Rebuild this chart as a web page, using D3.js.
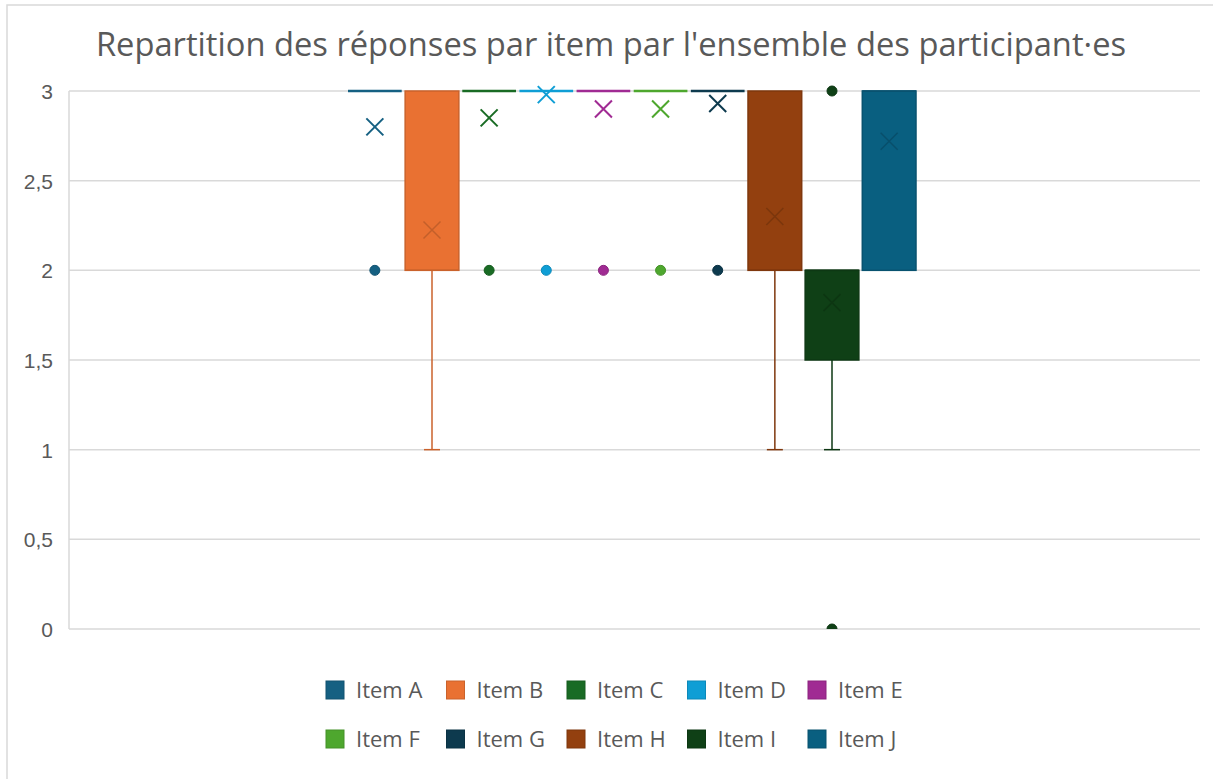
<!DOCTYPE html>
<html lang="fr">
<head>
<meta charset="utf-8">
<title>Repartition des réponses</title>
<style>
  body { margin: 0; background: #fff; }
  svg { display: block; font-family: "Open Sans", "Noto Sans", sans-serif; }
  .grid line { stroke: #d9d9d9; stroke-width: 1.5; }
  .axis text { fill: #595959; font-size: 21px; }
  .legend text { fill: #595959; font-size: 22px; }
  .title { fill: #595959; font-size: 32.7px; }
</style>
</head>
<body>
<div id="chart"></div>
<script src="https://cdn.jsdelivr.net/npm/d3@7"></script>
<script>
// values
var items = ["Item A", "Item B", "Item C", "Item D", "Item E", "Item F", "Item G", "Item H", "Item I", "Item J"];
var colors = ["#156082", "#e97132", "#196b24", "#0f9ed5", "#a02b93", "#4ea72e", "#0d3a4e", "#93400f", "#0f4016", "#095f80"];
var q1 =        [3, 2, 3, 3, 3, 3, 3, 2, 1.5, 2];
var median =    [3, 2, 3, 3, 3, 3, 3, 2, 2, 3];
var q3 =        [3, 3, 3, 3, 3, 3, 3, 3, 2, 3];
var whiskLow =  [3, 1, 3, 3, 3, 3, 3, 1, 1, 2];
var whiskHigh = [3, 3, 3, 3, 3, 3, 3, 3, 2, 3];
var means =     [2.80, 2.225, 2.85, 2.98, 2.90, 2.90, 2.93, 2.30, 1.82, 2.72];
var outliers =  [[2], [], [2], [2], [2], [2], [2], [], [3, 0], []];
var yTicks = [0, 0.5, 1, 1.5, 2, 2.5, 3];
var title = "Repartition des réponses par item par l'ensemble des participant·es";

var W = 1213, H = 779;
var plot = {left: 69, right: 1200, top: 91, bottom: 629};

var svg = d3.select("#chart").append("svg").attr("width", W).attr("height", H);

// chart border
svg.append("rect").attr("x", 7).attr("y", 5).attr("width", W).attr("height", H)
  .attr("fill", "none").attr("stroke", "#d9d9d9").attr("stroke-width", 1.5);

svg.append("text").attr("class", "title")
  .attr("x", 611).attr("y", 56).attr("text-anchor", "middle").text(title);

var y = d3.scaleLinear().domain([0, 3]).range([plot.bottom, plot.top]);

// the series sit in the middle half of the single category
var x = d3.scaleBand().domain(items).range([348, 916]).paddingInner(0.06);

var grid = svg.append("g").attr("class", "grid");
grid.selectAll("line").data(yTicks).enter().append("line")
  .attr("x1", plot.left).attr("x2", plot.right)
  .attr("y1", function(d){ return y(d); }).attr("y2", function(d){ return y(d); });

svg.append("line").attr("x1", plot.left).attr("x2", plot.left)
  .attr("y1", plot.top).attr("y2", plot.bottom)
  .attr("stroke", "#d9d9d9").attr("stroke-width", 1.5);

var yAxis = svg.append("g").attr("class", "axis")
  .attr("transform", "translate(" + (plot.left - 16) + ",0)")
  .call(d3.axisLeft(y).tickValues(yTicks).tickSize(0)
    .tickFormat(function(d){ return String(d).replace(".", ","); }));
yAxis.select(".domain").remove();
yAxis.selectAll("text").attr("dy", "0.35em").attr("x", 0);

svg.append("clipPath").attr("id", "clip").append("rect")
  .attr("x", plot.left).attr("y", plot.top - 6)
  .attr("width", plot.right - plot.left).attr("height", plot.bottom - plot.top + 6);

var boxes = svg.append("g").attr("clip-path", "url(#clip)");
var bw = x.bandwidth();

items.forEach(function(name, i){
  var c = colors[i];
  var dark = d3.color(c).darker(0.4).formatHex();
  var g = boxes.append("g");
  var cx = x(name) + bw / 2;

  // whiskers
  [[q1[i], whiskLow[i]], [q3[i], whiskHigh[i]]].forEach(function(w){
    if (w[0] === w[1]) return;
    g.append("line").attr("x1", cx).attr("x2", cx)
      .attr("y1", y(w[0])).attr("y2", y(w[1]))
      .attr("stroke", dark).attr("stroke-width", 1.5);
    g.append("line").attr("x1", cx - 8).attr("x2", cx + 8)
      .attr("y1", y(w[1])).attr("y2", y(w[1]))
      .attr("stroke", dark).attr("stroke-width", 1.5);
  });

  if (q1[i] === q3[i]) {
    g.append("line").attr("x1", x(name)).attr("x2", x(name) + bw)
      .attr("y1", y(q3[i])).attr("y2", y(q3[i]))
      .attr("stroke", c).attr("stroke-width", 2.5);
  } else {
    g.append("rect").attr("x", x(name)).attr("y", y(q3[i]))
      .attr("width", bw).attr("height", y(q1[i]) - y(q3[i]))
      .attr("fill", c).attr("stroke", dark).attr("stroke-width", 1.5);
    g.append("line").attr("x1", x(name)).attr("x2", x(name) + bw)
      .attr("y1", y(median[i])).attr("y2", y(median[i]))
      .attr("stroke", dark).attr("stroke-width", 1.5);
  }

  // mean marker
  var inBox = means[i] > q1[i] && means[i] < q3[i];
  var my = y(means[i]), s = 8.5;
  g.append("path")
    .attr("d", "M" + (cx - s) + "," + (my - s) + "L" + (cx + s) + "," + (my + s) +
               "M" + (cx - s) + "," + (my + s) + "L" + (cx + s) + "," + (my - s))
    .attr("stroke", inBox ? d3.color(c).darker(0.5).formatHex() : c)
    .attr("stroke-width", inBox ? 1.5 : 2).attr("fill", "none");

  g.selectAll("circle").data(outliers[i]).enter().append("circle")
    .attr("cx", cx).attr("cy", function(d){ return y(d); }).attr("r", 5)
    .attr("fill", c).attr("stroke", dark).attr("stroke-width", 1);
});

// legend
var legend = svg.append("g").attr("class", "legend");
var lx = d3.scaleBand().domain(d3.range(5)).range([326, 326 + 5 * 120.5]);
var ly = d3.scalePoint().domain([0, 1]).range([690, 739]);
items.forEach(function(name, i){
  var col = i % 5, row = Math.floor(i / 5);
  var lg = legend.append("g").attr("transform", "translate(" + lx(col) + "," + ly(row) + ")");
  lg.append("rect").attr("x", 0).attr("y", -9).attr("width", 18).attr("height", 18)
    .attr("fill", colors[i]).attr("stroke", d3.color(colors[i]).darker(0.4).formatHex()).attr("stroke-width", 1);
  lg.append("text").attr("x", 30).attr("y", 0).attr("dy", "0.35em").text(name);
});
</script>
</body>
</html>
